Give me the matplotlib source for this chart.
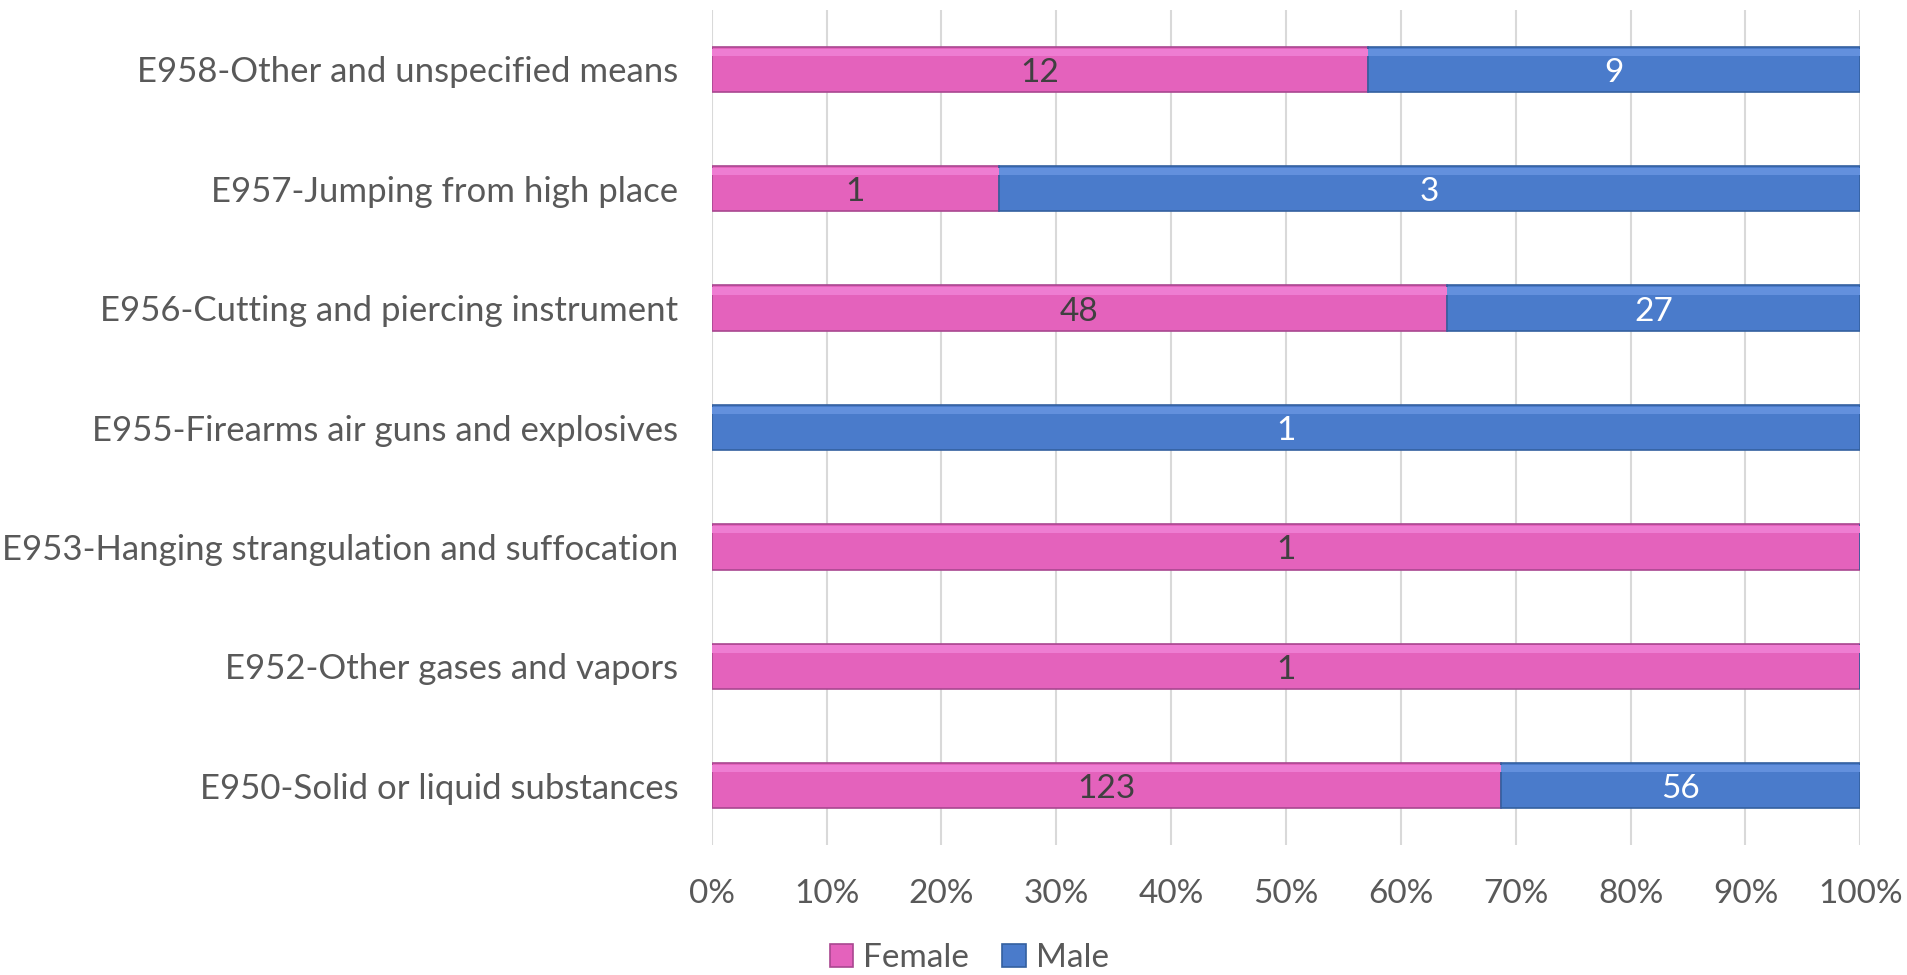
import matplotlib.pyplot as plt
import numpy as np
from matplotlib.ticker import PercentFormatter

categorias = ['E950-Solid or liquid substances', 'E952-Other gases and vapors',
              'E953-Hanging strangulation and suffocation', 'E955-Firearms air guns and explosives',
              'E956-Cutting and piercing instrument', 'E957-Jumping from high place',
              'E958-Other and unspecified means']
female = [123, 1, 1, 0, 48, 1, 12]
male = [56, 0, 0, 1, 27, 3, 9]

plt.rcParams['font.family'] = ['Lato', 'DejaVu Sans']

f = np.array(female, dtype=float)
m = np.array(male, dtype=float)
tot = f + m
pf = f / tot * 100
pm = m / tot * 100
y = np.arange(len(categorias))
h = 0.38

fig = plt.figure(figsize=(19.08, 9.75), dpi=100)
ax = fig.add_axes([0.373, 0.133, 0.602, 0.857])

rosa, rosa_claro, rosa_esc = '#E462BC', '#EE7DD2', '#A94790'
azul, azul_claro, azul_esc = '#4A7BCB', '#6390DD', '#34609F'

ax.barh(y, pf, height=h, color=rosa, edgecolor=rosa_esc, linewidth=1.2, label='Female', zorder=3)
ax.barh(y, pm, left=pf, height=h, color=azul, edgecolor=azul_esc, linewidth=1.2, label='Male', zorder=3)
# brilho no topo (efeito bisel)
ax.barh(y + h * 0.38, pf, height=h * 0.16, color=rosa_claro, linewidth=0, zorder=4)
ax.barh(y + h * 0.38, pm, left=pf, height=h * 0.16, color=azul_claro, linewidth=0, zorder=4)

for i in range(len(categorias)):
    if f[i] > 0:
        ax.text(pf[i] / 2, y[i] - 0.03, f'{int(f[i])}', ha='center', va='center',
                fontsize=24, color='#404040', zorder=5)
    if m[i] > 0:
        ax.text(pf[i] + pm[i] / 2, y[i] - 0.03, f'{int(m[i])}', ha='center', va='center',
                fontsize=24, color='white', zorder=5)

ax.set_xlim(0, 100)
ax.set_ylim(-0.5, 6.5)
ax.set_xticks(np.arange(0, 101, 10))
ax.xaxis.set_major_formatter(PercentFormatter(decimals=0))
ax.set_yticks(y)
ax.set_yticklabels(categorias)
ax.grid(axis='x', color='#D9D9D9', linewidth=1.5, zorder=0)
for s in ax.spines.values():
    s.set_visible(False)
ax.tick_params(axis='both', length=0, labelsize=24, colors='#595959')
ax.tick_params(axis='y', labelsize=25)
ax.tick_params(axis='x', pad=24)
ax.tick_params(axis='y', pad=24)

leg = fig.legend(loc='center', bbox_to_anchor=(0.508, 0.017), ncol=2, frameon=False,
                 fontsize=24, handlelength=0.7, handleheight=0.7, handletextpad=0.3, columnspacing=1.0)
for t in leg.get_texts():
    t.set_color('#595959')

fig.savefig('out.png', dpi=100)
